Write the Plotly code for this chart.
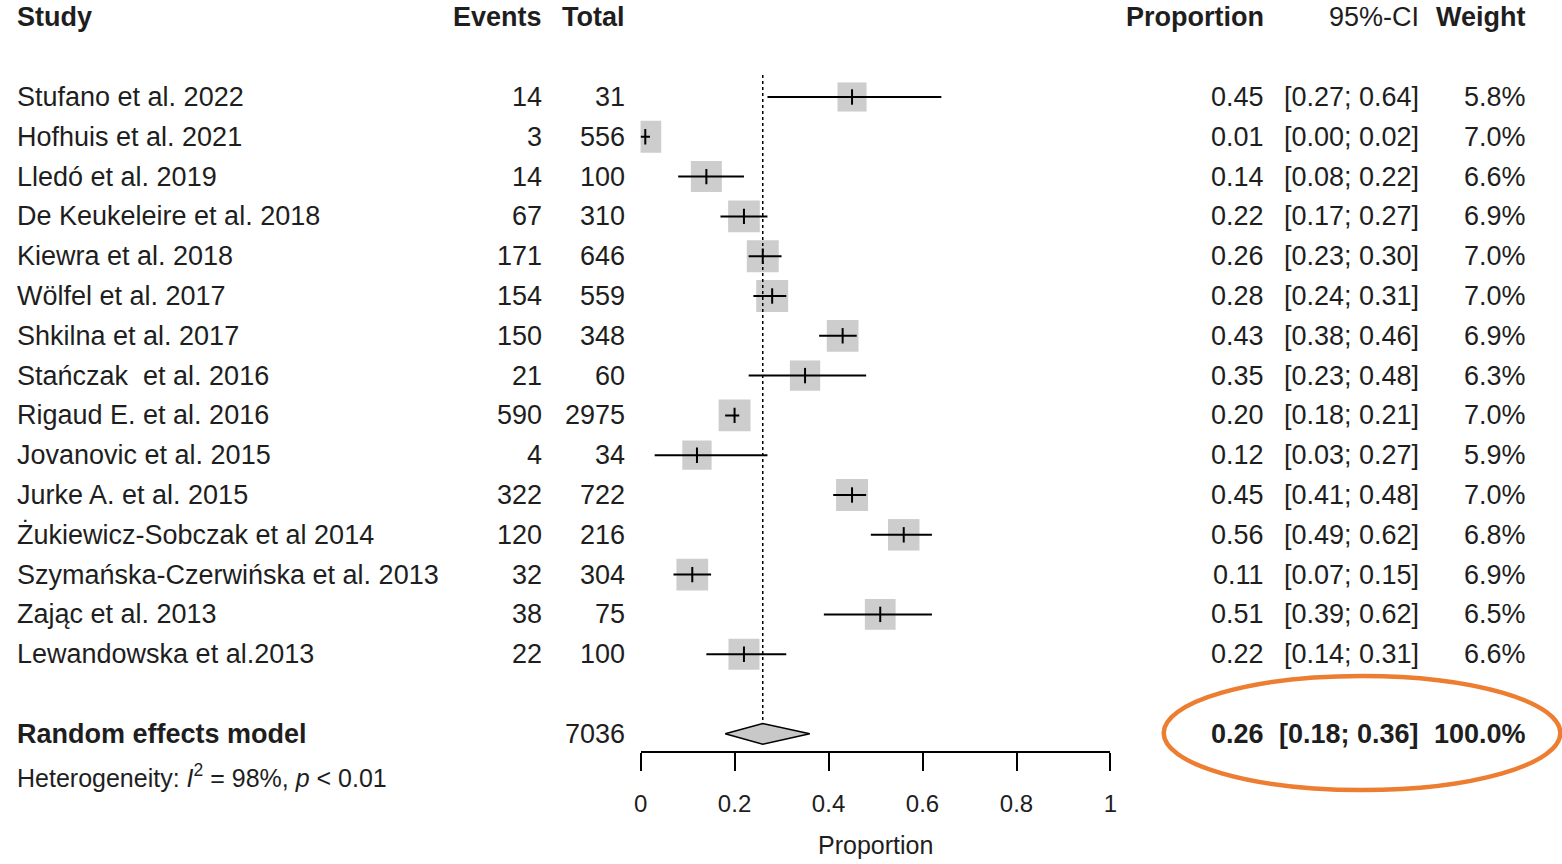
import plotly.graph_objects as go

# ---------------- data ----------------
studies = [
    "Stufano et al. 2022", "Hofhuis et al. 2021", "Lledó et al. 2019",
    "De Keukeleire et al. 2018", "Kiewra et al. 2018", "Wölfel et al. 2017",
    "Shkilna et al. 2017", "Stańczak  et al. 2016", "Rigaud E. et al. 2016",
    "Jovanovic et al. 2015", "Jurke A. et al. 2015", "Żukiewicz-Sobczak et al 2014",
    "Szymańska-Czerwińska et al. 2013", "Zając et al. 2013", "Lewandowska et al.2013",
]
events = [14, 3, 14, 67, 171, 154, 150, 21, 590, 4, 322, 120, 32, 38, 22]
totals = [31, 556, 100, 310, 646, 559, 348, 60, 2975, 34, 722, 216, 304, 75, 100]
prop = [0.45, 0.01, 0.14, 0.22, 0.26, 0.28, 0.43, 0.35, 0.20, 0.12, 0.45, 0.56, 0.11, 0.51, 0.22]
ci_lo = [0.27, 0.00, 0.08, 0.17, 0.23, 0.24, 0.38, 0.23, 0.18, 0.03, 0.41, 0.49, 0.07, 0.39, 0.14]
ci_hi = [0.64, 0.02, 0.22, 0.27, 0.30, 0.31, 0.46, 0.48, 0.21, 0.27, 0.48, 0.62, 0.15, 0.62, 0.31]
weights = [5.8, 7.0, 6.6, 6.9, 7.0, 7.0, 6.9, 6.3, 7.0, 5.9, 7.0, 6.8, 6.9, 6.5, 6.6]

pooled_label = "Random effects model"
pooled_total = 7036
pooled_est = 0.26
pooled_lo = 0.18
pooled_hi = 0.36
pooled_weight = 100.0
heterogeneity = "Heterogeneity: <i>I</i><sup>2</sup> = 98%, <i>p</i> < 0.01"

x_ticks = [0, 0.2, 0.4, 0.6, 0.8, 1]
x_ticktext = ["0", "0.2", "0.4", "0.6", "0.8", "1"]
x_title = "Proportion"
headers = {"study": "Study", "events": "Events", "total": "Total",
           "prop": "Proportion", "ci": "95%-CI", "weight": "Weight"}

# ---------------- layout constants ----------------
W, H = 1562, 864
ROW0_PX, ROW_STEP = 97.0, 39.8          # pixel position of first row, row spacing
FOREST_X0, FOREST_X1 = 641, 1109         # target pixel positions of 0 and 1 on the axis
AXIS_PX = 752
FONT = "Liberation Sans, Arial, sans-serif"
TXT = "#1e1e1e"
FS = 27
# horizontal correction observed in the rendered screenshot
SX, OX = 0.987, 10.0

COL_STUDY, COL_EVENTS, COL_TOTAL = 18, 545, 627
COL_PROP, COL_CI, COL_WEIGHT = 1264, 1418, 1525

n = len(studies)
rows = list(range(n))
pooled_row = n + 1
het_row = pooled_row + 1.06
header_row = -2.0


def px2row(p):
    return (p - ROW0_PX) / ROW_STEP


def xp(p):
    return ((p - OX) / SX) / W


fig = go.Figure()

# study squares (size ~ weight)
sizes = [31 * (w / 6.6) ** 0.5 for w in weights]
fig.add_trace(go.Scatter(
    x=prop, y=rows, mode="markers",
    marker=dict(symbol="square", size=sizes, color="#b8b8b8", line=dict(width=0)),
    hoverinfo="skip", showlegend=False,
))
# CI lines + estimate tick
fig.add_trace(go.Scatter(
    x=prop, y=rows, mode="markers",
    marker=dict(symbol="line-ns", size=11, line=dict(width=2, color="black"), color="black"),
    error_x=dict(type="data", symmetric=False,
                 array=[h - p for h, p in zip(ci_hi, prop)],
                 arrayminus=[p - l for p, l in zip(prop, ci_lo)],
                 width=0, thickness=2, color="black"),
    hoverinfo="skip", showlegend=False,
))
# pooled diamond
dh = 0.26
fig.add_trace(go.Scatter(
    x=[pooled_lo, pooled_est, pooled_hi, pooled_est, pooled_lo],
    y=[pooled_row, pooled_row - dh, pooled_row, pooled_row + dh, pooled_row],
    mode="lines", fill="toself", fillcolor="#c8c8c8",
    line=dict(color="black", width=1.5),
    hoverinfo="skip", showlegend=False,
))

shapes = [
    # dotted reference line at pooled estimate
    dict(type="line", xref="x", yref="y", x0=pooled_est, x1=pooled_est,
         y0=px2row(75), y1=pooled_row - dh, line=dict(color="black", width=1.5, dash="dot")),
    # orange highlight ellipse
    dict(type="circle", xref="paper", yref="paper",
         x0=xp(1162), x1=xp(1557), y0=1 - 790 / H, y1=1 - 676 / H,
         line=dict(color="#ED7D31", width=4.5)),
]

ann = []


def add_text(text, xpx, row, anchor="left", bold=False, size=FS):
    t = f"<b>{text}</b>" if bold else text
    ann.append(dict(text=t, x=xp(xpx), y=row, xref="paper", yref="y",
                    xanchor=anchor, yanchor="middle", showarrow=False,
                    font=dict(family=FONT, size=size, color=TXT)))


# headers
add_text(headers["study"], COL_STUDY, header_row, "left", True)
add_text(headers["events"], COL_EVENTS, header_row, "right", True)
add_text(headers["total"], COL_TOTAL, header_row, "right", True)
add_text(headers["prop"], COL_PROP, header_row, "right", True)
add_text(headers["ci"], COL_CI, header_row, "right", False)
add_text(headers["weight"], COL_WEIGHT, header_row, "right", True)

for i in range(n):
    add_text(studies[i], COL_STUDY, i, "left")
    add_text(str(events[i]), COL_EVENTS, i, "right")
    add_text(str(totals[i]), COL_TOTAL, i, "right")
    add_text(f"{prop[i]:.2f}", COL_PROP, i, "right")
    add_text(f"[{ci_lo[i]:.2f}; {ci_hi[i]:.2f}]", COL_CI, i, "right")
    add_text(f"{weights[i]:.1f}%", COL_WEIGHT, i, "right")

add_text(pooled_label, COL_STUDY, pooled_row, "left", True)
add_text(str(pooled_total), COL_TOTAL, pooled_row, "right")
add_text(f"{pooled_est:.2f}", COL_PROP, pooled_row, "right", True)
add_text(f"[{pooled_lo:.2f}; {pooled_hi:.2f}]", COL_CI, pooled_row, "right", True)
add_text(f"{pooled_weight:.1f}%", COL_WEIGHT, pooled_row, "right", True)
add_text(heterogeneity, COL_STUDY, het_row, "left", False, 25)

# axis title
ann.append(dict(text=x_title, x=0.5, y=px2row(845), xref="x domain", yref="y",
                xanchor="center", yanchor="middle", showarrow=False,
                font=dict(family=FONT, size=25, color=TXT)))

fig.update_layout(
    width=W, height=H,
    margin=dict(l=0, r=0, t=0, b=0),
    paper_bgcolor="white", plot_bgcolor="white",
    shapes=shapes, annotations=ann, showlegend=False,
    xaxis=dict(
        domain=[xp(FOREST_X0), xp(FOREST_X1)], range=[0, 1],
        anchor="free", position=1 - AXIS_PX / H,
        showgrid=False, zeroline=False,
        showline=True, linecolor="black", linewidth=2,
        ticks="outside", ticklen=18, tickwidth=2, tickcolor="black",
        tickvals=x_ticks, ticktext=x_ticktext, ticklabelstandoff=12,
        tickfont=dict(family=FONT, size=24, color=TXT),
    ),
    yaxis=dict(
        domain=[0, 1], range=[px2row(H), px2row(0)],
        visible=False, showgrid=False, zeroline=False,
    ),
)

fig.write_html(
    "out.html",
    config={"displayModeBar": False},
    post_script="document.body.style.margin='0';document.documentElement.style.overflow='hidden';document.body.style.overflow='hidden';",
)
